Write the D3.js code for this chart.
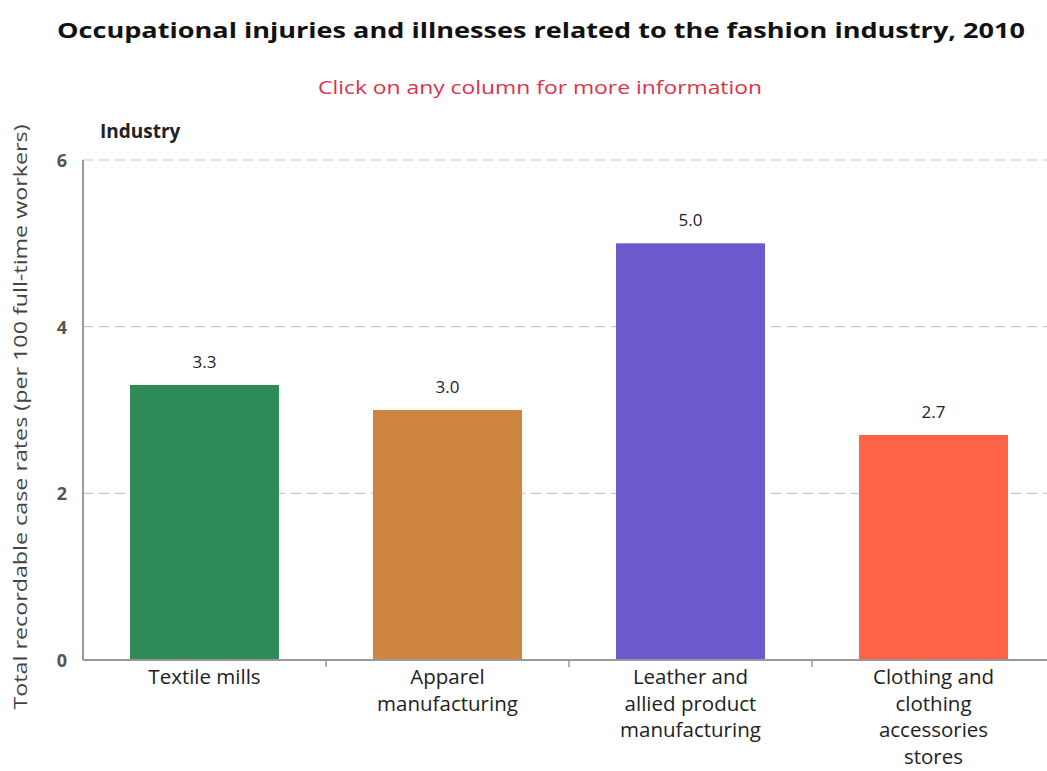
<!DOCTYPE html>
<html><head><meta charset="utf-8">
<script src="https://cdn.jsdelivr.net/npm/d3@7"></script>
<style>body{margin:0;background:#fff;} svg{display:block;}</style>
</head><body>
<svg id="c" width="1047" height="771"></svg>
<script>
const categories = [
  ["Textile mills"],
  ["Apparel", "manufacturing"],
  ["Leather and", "allied product", "manufacturing"],
  ["Clothing and", "clothing", "accessories", "stores"]
];
const values = [3.3, 3.0, 5.0, 2.7];
const colors = ["#2e8b57", "#cd853f", "#6a5acd", "#ff6347"];
const yTicks = [0, 2, 4, 6];
const title = "Occupational injuries and illnesses related to the fashion industry, 2010";
const subtitle = "Click on any column for more information";
const yTitle = "Total recordable case rates (per 100 full-time workers)";
const xTitle = "Industry";

const svg = d3.select("#c");
const font = "'Open Sans', 'DejaVu Sans', sans-serif";
const L = 83, R = 1055, T = 160, B = 660;

const x = d3.scaleBand().domain(d3.range(categories.length)).range([L, R])
  .paddingInner(0.387).paddingOuter(0.1935);
const y = d3.scaleLinear().domain([0, 6]).range([B, T]);

// title
svg.append("text").attr("x", 541).attr("y", 38).attr("text-anchor", "middle")
  .attr("font-family", font).attr("font-weight", "bold").attr("font-size", 21)
  .attr("fill", "#111").attr("textLength", 968).attr("lengthAdjust", "spacingAndGlyphs").text(title);
svg.append("text").attr("x", 540).attr("y", 94).attr("text-anchor", "middle")
  .attr("font-family", font).attr("font-size", 18).attr("fill", "#e0304a")
  .attr("textLength", 444).attr("lengthAdjust", "spacingAndGlyphs").text(subtitle);
svg.append("text").attr("x", 100).attr("y", 138)
  .attr("font-family", font).attr("font-weight", "bold").attr("font-size", 19).attr("fill", "#222").text(xTitle);

// grid
svg.append("g").selectAll("line").data(yTicks.filter(d => d > 0)).join("line")
  .attr("x1", L).attr("x2", 1047).attr("y1", d => y(d)).attr("y2", d => y(d))
  .attr("stroke", "#c8c8c8").attr("stroke-width", 1.2).attr("stroke-dasharray", "10,6");

// y tick labels
svg.append("g").selectAll("text").data(yTicks).join("text")
  .attr("x", 62).attr("y", d => y(d) + 7).attr("text-anchor", "middle")
  .attr("font-family", font).attr("font-weight", "bold").attr("font-size", 18).attr("fill", "#555")
  .text(d => d);

// bars
svg.append("g").selectAll("rect").data(values).join("rect")
  .attr("x", (d, i) => x(i)).attr("width", x.bandwidth())
  .attr("y", d => y(d)).attr("height", d => B - y(d))
  .attr("fill", (d, i) => colors[i]);

// value labels
svg.append("g").selectAll("text").data(values).join("text")
  .attr("x", (d, i) => x(i) + x.bandwidth() / 2).attr("y", d => y(d) - 17)
  .attr("text-anchor", "middle").attr("font-family", font).attr("font-size", 17).attr("fill", "#222")
  .text(d => d.toFixed(1));

// axes lines
svg.append("line").attr("x1", L).attr("x2", L).attr("y1", T).attr("y2", B)
  .attr("stroke", "#999").attr("stroke-width", 2);
svg.append("line").attr("x1", L).attr("x2", 1047).attr("y1", B).attr("y2", B)
  .attr("stroke", "#999").attr("stroke-width", 2);
svg.append("g").selectAll("line").data(d3.range(1, categories.length)).join("line")
  .attr("x1", i => x(i) - x.step() * x.paddingInner() / 2).attr("x2", i => x(i) - x.step() * x.paddingInner() / 2)
  .attr("y1", B).attr("y2", B + 7).attr("stroke", "#999").attr("stroke-width", 1.5);

// category labels
const cg = svg.append("g").selectAll("text").data(categories).join("text")
  .attr("text-anchor", "middle").attr("font-family", font).attr("font-size", 20.5).attr("fill", "#222");
cg.each(function(lines, i) {
  d3.select(this).selectAll("tspan").data(lines).join("tspan")
    .attr("x", x(i) + x.bandwidth() / 2).attr("y", (d, j) => 684 + j * 26.5).text(d => d);
});

// y title
svg.append("text").attr("transform", "translate(27," + 417 + ") rotate(-90)")
  .attr("text-anchor", "middle").attr("font-family", font).attr("font-size", 18).attr("fill", "#444")
  .attr("textLength", 585).attr("lengthAdjust", "spacingAndGlyphs").text(yTitle);
</script>
</body></html>
